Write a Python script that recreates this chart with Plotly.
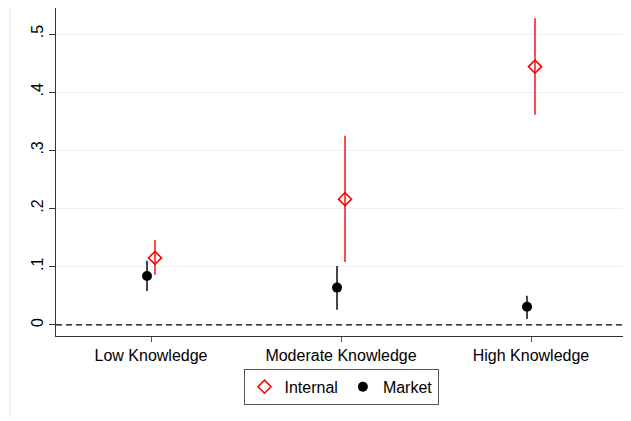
import plotly.graph_objects as go

categories = ["Low Knowledge", "Moderate Knowledge", "High Knowledge"]
cat_pos = [1, 2, 3]

internal_est = [0.115, 0.216, 0.444]
internal_hi = [0.146, 0.325, 0.527]
internal_lo = [0.086, 0.108, 0.361]

market_est = [0.084, 0.064, 0.031]
market_hi = [0.110, 0.101, 0.050]
market_lo = [0.058, 0.026, 0.010]

ytick_vals = [0, 0.1, 0.2, 0.3, 0.4, 0.5]
ytick_text = ["0", ".1", ".2", ".3", ".4", ".5"]

offset = 0.021

fig = go.Figure()

fig.add_trace(go.Scatter(
    x=[p + offset for p in cat_pos], y=internal_est, mode="markers", name="Internal",
    marker=dict(symbol="diamond-open", size=10, color="#ff0000", line=dict(width=1.6, color="#ff0000")),
    error_y=dict(type="data", symmetric=False,
                 array=[h - e for h, e in zip(internal_hi, internal_est)],
                 arrayminus=[e - l for l, e in zip(internal_lo, internal_est)],
                 width=0, thickness=1.6, color="#ff2020"),
))
fig.add_trace(go.Scatter(
    x=[p - offset for p in cat_pos], y=market_est, mode="markers", name="Market",
    marker=dict(symbol="circle", size=10, color="#000000"),
    error_y=dict(type="data", symmetric=False,
                 array=[h - e for h, e in zip(market_hi, market_est)],
                 arrayminus=[e - l for l, e in zip(market_lo, market_est)],
                 width=0, thickness=1.6, color="#1a1a1a"),
))

fig.add_shape(type="line", xref="paper", yref="y", x0=0, x1=1, y0=0, y1=0,
              line=dict(color="#000000", width=1.3, dash="6px,4px"), layer="above")
fig.add_shape(type="line", xref="paper", yref="paper", x0=-46/570, x1=-46/570, y0=-0.25, y1=1.0,
              line=dict(color="#e6ecec", width=1))

fig.update_layout(
    width=623, height=413,
    margin=dict(l=48, r=5, t=0, b=85),
    paper_bgcolor="white", plot_bgcolor="white",
    font=dict(family="Liberation Sans, Arial, sans-serif", size=16, color="#000000"),
    showlegend=True,
    legend=dict(orientation="h", x=0.5, xanchor="center", y=-0.155, yanchor="middle",
                bordercolor="#555555", borderwidth=1, font=dict(size=16),
                itemwidth=30, tracegroupgap=0),
    xaxis=dict(range=[0.5, 3.5], tickvals=cat_pos, ticktext=categories, automargin=False,
               showgrid=False, zeroline=False, showline=True, linecolor="#333333", linewidth=1,
               ticks="outside", ticklen=5, tickcolor="#555555", tickfont=dict(size=16)),
    yaxis=dict(range=[-0.0192, 0.5447], tickvals=ytick_vals, ticktext=ytick_text, automargin=False,
               tickangle=-90, showgrid=True, gridcolor="#eaf1f2", gridwidth=1, zeroline=False,
               showline=True, linecolor="#333333", linewidth=1,
               ticks="outside", ticklen=6, tickcolor="#333333", tickfont=dict(size=16)),
)

fig.write_html("out.html")
